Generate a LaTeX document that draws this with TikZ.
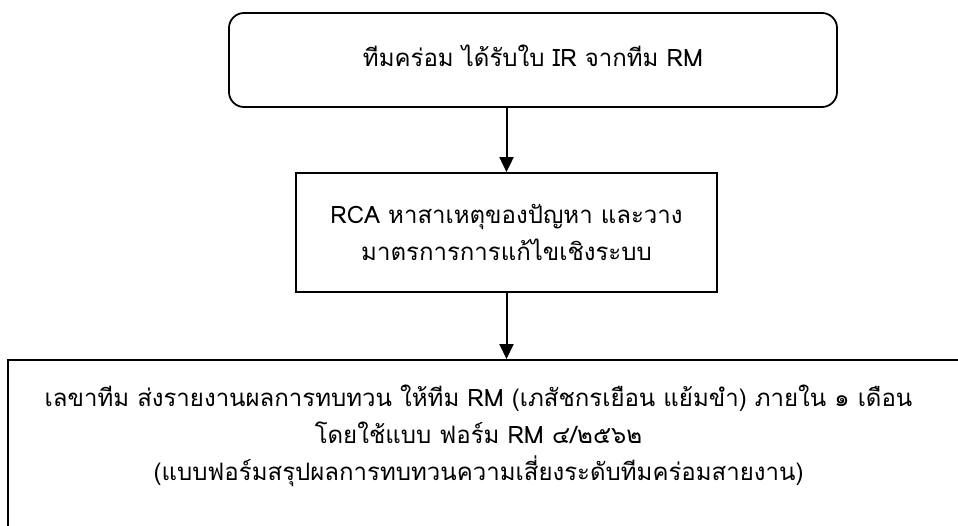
\documentclass[tikz,border=0pt]{standalone}
\usepackage{fontspec}
\newfontfamily\thaifont[Script=Thai]{Loma}
\usetikzlibrary{arrows.meta}
\tikzset{
  boxline/.style={draw=black, line width=1.8pt},
  flowarrow/.style={line width=2pt, -{Triangle[width=14pt,length=15pt]}},
  txt/.style={font=\thaifont\fontsize{24}{37}\selectfont, align=center, inner sep=0pt}
}
\begin{document}
\begin{tikzpicture}[x=1pt,y=-1pt]
\useasboundingbox (0,0) rectangle (958,525);
\clip (0,0) rectangle (958,525);
\node[boxline, rounded corners=15pt, minimum width=608pt, minimum height=94pt, inner sep=0pt] (top) at (533,60) {};
\node[txt] (toptxt) at (533,56) {ทีมคร่อม ได้รับใบ IR จากทีม RM};
\node[boxline, minimum width=421pt, minimum height=119pt, inner sep=0pt] (mid) at (506.5,232.5) {};
\node[txt] (midtxt) at (506.5,232.5) {RCA หาสาเหตุของปัญหา และวาง\\มาตรการการแก้ไขเชิงระบบ};
\node[boxline, minimum width=958pt, minimum height=190pt, inner sep=0pt, anchor=north west] (bot) at (7,359) {};
\node[txt] (bottxt) at (478.5,436) {เลขาทีม ส่งรายงานผลการทบทวน ให้ทีม RM (เภสัชกรเยือน แย้มขำ) ภายใน ๑ เดือน\\โดยใช้แบบ ฟอร์ม RM ๔/๒๕๖๒\\(แบบฟอร์มสรุปผลการทบทวนความเสี่ยงระดับทีมคร่อมสายงาน)};
\draw[flowarrow] (mid.north |- top.south) -- (mid.north);
\draw[flowarrow] (mid.south) -- (mid.south |- bot.north);
\end{tikzpicture}
\end{document}
